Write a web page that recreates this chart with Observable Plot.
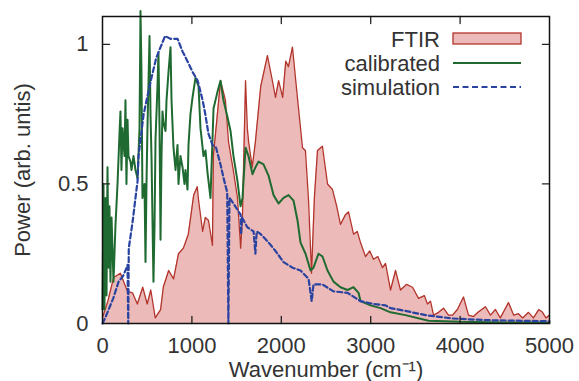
<!DOCTYPE html>
<html>
<head>
<meta charset="utf-8">
<script src="https://cdn.jsdelivr.net/npm/d3@7"></script>
<script src="https://cdn.jsdelivr.net/npm/@observablehq/plot@0.6"></script>
<style>
  html, body { margin: 0; padding: 0; background: #fff; }
  #chart { width: 579px; height: 381px; }
</style>
</head>
<body>
<div id="chart"></div>
<script>
// ---- data ----
const ftirWn = [0, 60, 125, 200, 280, 335, 390, 450, 500, 540, 590, 650, 680, 740, 795, 850, 905, 960, 1020, 1060, 1075, 1120, 1150, 1185, 1230, 1240, 1285, 1320, 1375, 1410, 1465, 1510, 1545, 1565, 1600, 1620, 1635, 1675, 1710, 1770, 1845, 1900, 1935, 1970, 2015, 2050, 2080, 2125, 2180, 2237, 2270, 2305, 2338, 2370, 2405, 2460, 2517, 2573, 2620, 2662, 2718, 2752, 2808, 2850, 2886, 2942, 2990, 3031, 3080, 3132, 3166, 3222, 3278, 3333, 3400, 3468, 3535, 3600, 3635, 3669, 3703, 3760, 3815, 3870, 3915, 3970, 4038, 4094, 4150, 4200, 4284, 4340, 4396, 4450, 4500, 4541, 4600, 4653, 4700, 4765, 4820, 4880, 4922, 4960, 5000];
const ftirPower = [0.02, 0.08, 0.165, 0.18, 0.115, 0.11, 0.07, 0.13, 0.07, 0.12, 0.02, 0.05, 0.13, 0.19, 0.16, 0.25, 0.27, 0.32, 0.46, 0.49, 0.44, 0.33, 0.38, 0.37, 0.28, 0.6, 0.75, 0.87, 0.8, 0.65, 0.545, 0.45, 0.27, 0.38, 0.87, 0.7, 0.65, 0.56, 0.65, 0.85, 0.96, 0.87, 0.81, 0.87, 0.81, 0.94, 0.92, 0.99, 0.81, 0.63, 0.62, 0.44, 0.18, 0.45, 0.62, 0.635, 0.5, 0.48, 0.42, 0.355, 0.39, 0.4, 0.32, 0.33, 0.29, 0.24, 0.26, 0.23, 0.24, 0.2, 0.215, 0.12, 0.19, 0.12, 0.14, 0.13, 0.09, 0.1, 0.07, 0.08, 0.03, 0.04, 0.055, 0.03, 0.03, 0.05, 0.095, 0.03, 0.025, 0.04, 0.06, 0.03, 0.05, 0.02, 0.05, 0.075, 0.03, 0.035, 0.02, 0.04, 0.02, 0.05, 0.04, 0.02, 0.03];

const calWn = [0, 11, 22, 34, 45, 56, 67, 78, 89, 101, 123, 145, 168, 190, 201, 212, 224, 246, 257, 268, 280, 291, 313, 324, 347, 369, 392, 414, 425, 436, 447, 470, 481, 492, 503, 526, 537, 548, 570, 582, 593, 615, 626, 638, 649, 660, 671, 682, 705, 716, 738, 761, 772, 794, 817, 839, 850, 872, 895, 917, 928, 951, 962, 984, 1007, 1040, 1074, 1096, 1130, 1152, 1175, 1208, 1242, 1286, 1320, 1353, 1398, 1432, 1465, 1510, 1544, 1566, 1600, 1633, 1678, 1711, 1745, 1801, 1857, 1913, 1969, 2025, 2081, 2137, 2181, 2215, 2271, 2327, 2360, 2416, 2461, 2517, 2584, 2662, 2741, 2808, 2864, 2886, 2998, 3110, 3222, 3389, 3647, 4005, 4500, 5000];
const calPower = [0.05, 0.5, 0.05, 0.45, 0.1, 0.56, 0.2, 0.42, 0.15, 0.38, 0.15, 0.35, 0.5, 0.68, 0.76, 0.55, 0.7, 0.6, 0.8, 0.5, 0.73, 0.6, 0.58, 0.55, 0.6, 0.55, 0.52, 0.7, 1.12, 0.9, 0.45, 0.5, 0.22, 0.5, 0.7, 1.03, 0.75, 0.6, 0.15, 0.35, 0.66, 0.85, 0.97, 0.7, 0.3, 0.6, 0.76, 0.72, 0.69, 0.8, 0.9, 0.99, 0.8, 0.63, 0.55, 0.64, 0.5, 0.6, 0.56, 0.5, 0.55, 0.48, 0.64, 0.75, 0.81, 0.88, 0.85, 0.7, 0.6, 0.62, 0.54, 0.45, 0.77, 0.83, 0.87, 0.8, 0.74, 0.69, 0.6, 0.51, 0.42, 0.45, 0.63, 0.6, 0.535, 0.56, 0.58, 0.57, 0.53, 0.46, 0.43, 0.45, 0.46, 0.44, 0.37, 0.29, 0.25, 0.19, 0.2, 0.25, 0.24, 0.19, 0.15, 0.13, 0.12, 0.13, 0.11, 0.08, 0.065, 0.055, 0.04, 0.03, 0.01, 0.006, 0.004, 0.003];

const simWn = [0, 30, 120, 180, 230, 270, 280, 288, 294, 335, 369, 392, 403, 460, 540, 600, 630, 700, 760, 840, 895, 950, 1010, 1065, 1120, 1150, 1185, 1230, 1270, 1320, 1355, 1395, 1408, 1420, 1465, 1545, 1550, 1560, 1620, 1690, 1710, 1725, 1770, 1845, 1935, 2025, 2125, 2215, 2305, 2340, 2360, 2460, 2584, 2741, 2886, 3031, 3166, 3222, 3389, 3613, 3915, 4284, 5000];
const simPower = [0, 0.02, 0.09, 0.15, 0.17, 0.2, 0.21, 0.0, 0.27, 0.36, 0.45, 0.51, 0.6, 0.75, 0.87, 0.95, 0.975, 1.03, 1.02, 1.02, 0.975, 0.94, 0.9, 0.87, 0.8, 0.75, 0.68, 0.64, 0.63, 0.57, 0.52, 0.47, 0.0, 0.45, 0.43, 0.39, 0.32, 0.38, 0.345, 0.33, 0.25, 0.33, 0.32, 0.295, 0.26, 0.22, 0.2, 0.19, 0.16, 0.08, 0.14, 0.14, 0.115, 0.11, 0.08, 0.07, 0.065, 0.055, 0.045, 0.03, 0.018, 0.012, 0.008];

const xTickValues = [0, 1000, 2000, 3000, 4000, 5000];
const yTickValues = [0, 0.5, 1];
const xMinorTicks = [1000, 2000, 3000, 4000];
const yMinorTicks = [0.5, 1];
const legendLabels = ["FTIR", "calibrated", "simulation"];
const xLabel = "Wavenumber (cm⁻¹)";
const yLabel = "Power (arb. untis)";

// ---- build tables ----
const ftir = ftirWn.map((w, i) => ({wn: w, p: ftirPower[i]}));
const cal = calWn.map((w, i) => ({wn: w, p: calPower[i]}));
const sim = simWn.map((w, i) => ({wn: w, p: simPower[i]}));

const colors = {fill: "#ebbab9", red: "#b3342b", green: "#1f6a30", blue: "#2b43a0"};
const tickShape = {draw(context, l) { context.moveTo(0, 0); context.lineTo(0, -l); }};

const svg = Plot.plot({
  width: 579,
  height: 381,
  marginLeft: 102,
  marginRight: 30,
  marginTop: 16,
  marginBottom: 58,
  style: {fontFamily: "'Liberation Sans', Arial, sans-serif", fontSize: "22px", color: "#333", background: "#fff", overflow: "visible"},
  x: {domain: [0, 5000]},
  y: {domain: [0, 1.1]},
  marks: [
    Plot.areaY(ftir, {x: "wn", y: "p", fill: colors.fill}),
    Plot.lineY(ftir, {x: "wn", y: "p", stroke: colors.red, strokeWidth: 1.3}),
    Plot.lineY(cal, {x: "wn", y: "p", stroke: colors.green, strokeWidth: 2}),
    Plot.lineY(sim, {x: "wn", y: "p", stroke: colors.blue, strokeWidth: 2.2, strokeDasharray: "5,3"}),
    // inward ticks on all four sides
    Plot.vector(xMinorTicks, {x: d => d, y: 0, length: 7, rotate: 0, anchor: "start", shape: tickShape, stroke: "#222", strokeWidth: 1.3}),
    Plot.vector(xMinorTicks, {x: d => d, y: 1.1, length: 7, rotate: 180, anchor: "start", shape: tickShape, stroke: "#222", strokeWidth: 1.3}),
    Plot.vector(yMinorTicks, {x: 0, y: d => d, length: 7, rotate: 90, anchor: "start", shape: tickShape, stroke: "#222", strokeWidth: 1.3}),
    Plot.vector(yMinorTicks, {x: 5000, y: d => d, length: 7, rotate: -90, anchor: "start", shape: tickShape, stroke: "#222", strokeWidth: 1.3}),
    Plot.axisX({ticks: xTickValues, tickSize: 0, tickPadding: 14, label: null, tickFormat: d => String(d), fill: "#333"}),
    Plot.axisY({ticks: yTickValues, tickSize: 0, tickPadding: 14, label: null, tickFormat: d => String(d), fill: "#333"}),
    Plot.frame({stroke: "#111", strokeWidth: 1.5}),
    Plot.text([xLabel], {text: d => d, frameAnchor: "bottom", lineAnchor: "middle", textAnchor: "middle", dy: 46, fill: "#333", fontSize: 22}),
    Plot.text([yLabel], {text: d => d, frameAnchor: "left", textAnchor: "middle", lineAnchor: "middle", dx: -80, rotate: -90, fill: "#333", fontSize: 22})
  ]
});
document.getElementById("chart").append(svg);

// ---- legend (inside the plot, top right) ----
const lg = d3.select(svg).append("g").attr("font-family", "'Liberation Sans', Arial, sans-serif").attr("font-size", 22).attr("fill", "#333");
const rowY = [39, 63, 87];
legendLabels.forEach((t, i) => {
  lg.append("text").attr("x", 440).attr("y", rowY[i]).attr("text-anchor", "end").attr("dy", "0.35em").text(t);
});
lg.append("rect").attr("x", 453).attr("y", 33).attr("width", 68).attr("height", 11).attr("fill", colors.fill).attr("stroke", colors.red).attr("stroke-width", 1.3);
lg.append("line").attr("x1", 453).attr("x2", 521).attr("y1", 63).attr("y2", 63).attr("stroke", colors.green).attr("stroke-width", 2);
lg.append("line").attr("x1", 453).attr("x2", 521).attr("y1", 87).attr("y2", 87).attr("stroke", colors.blue).attr("stroke-width", 2.2).attr("stroke-dasharray", "6,3.5");
</script>
</body>
</html>
